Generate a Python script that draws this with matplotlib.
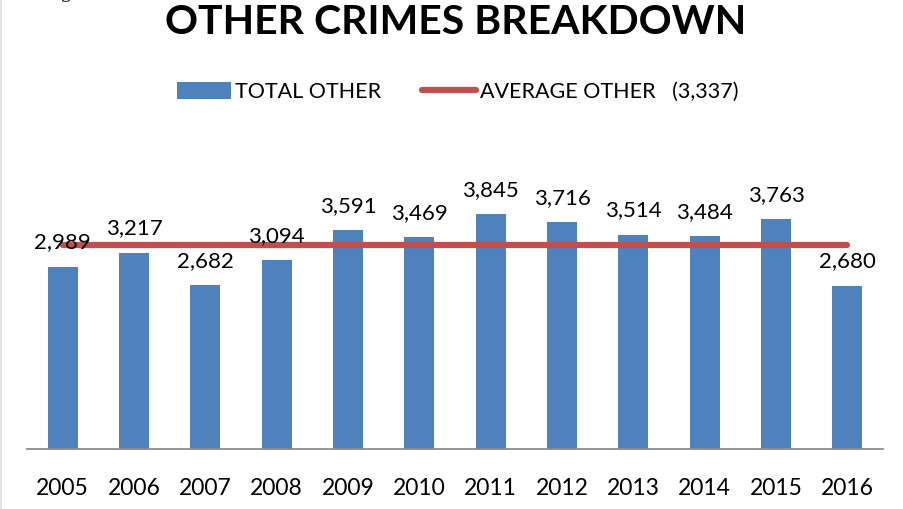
import matplotlib
matplotlib.use("Agg")
import matplotlib.pyplot as plt
from matplotlib.lines import Line2D
from matplotlib.patches import Patch

years = ["2005", "2006", "2007", "2008", "2009", "2010",
         "2011", "2012", "2013", "2014", "2015", "2016"]
total_other = [2989, 3217, 2682, 3094, 3591, 3469, 3845, 3716, 3514, 3484, 3763, 2680]
average_other = 3337

BLUE = "#4F81BD"
RED = "#C0504D"
FONT = "Lato"

W, H = 904, 509
fig = plt.figure(figsize=(W / 100, H / 100), dpi=100)

ymax = 5000
px_per_unit = 0.061
ax_left, ax_right, ax_bottom = 27, 883, 449
ax_top = ax_bottom - ymax * px_per_unit
ax = fig.add_axes([ax_left / W, (H - ax_bottom) / H,
                   (ax_right - ax_left) / W, (ax_bottom - ax_top) / H])

x = list(range(len(years)))
ax.bar(x, total_other, width=0.42, color=BLUE, zorder=2)
ax.plot([x[0], x[-1]], [average_other, average_other], color=RED,
        linewidth=4.5, solid_capstyle="round", zorder=3)

for xi, v in zip(x, total_other):
    ax.annotate(f"{v:,}", (xi, v), xytext=(0, 17.5), textcoords="offset points",
                ha="center", va="center", fontsize=16, family=FONT, zorder=4)

ax.set_xlim(-0.5, len(years) - 0.5)
ax.set_ylim(0, ymax)
ax.set_xticks(x)
ax.set_xticklabels(years, family=FONT, fontsize=16.5)
ax.tick_params(axis="x", length=0, pad=21)
ax.set_yticks([])
for side in ("top", "right", "left"):
    ax.spines[side].set_visible(False)
ax.spines["bottom"].set_color("#8C8C8C")
ax.spines["bottom"].set_linewidth(1.3)

fig.text(456 / W, 1 - 23 / H, "OTHER CRIMES BREAKDOWN", ha="center", va="center",
         fontsize=29.5, fontweight="bold", family=FONT)

handles = [Patch(facecolor=BLUE, edgecolor="none"),
           Line2D([0], [0], color=RED, linewidth=4.5, solid_capstyle="round")]
labels = ["TOTAL OTHER", f"AVERAGE OTHER   ({average_other:,})"]
fig.legend(handles, labels, loc="center", bbox_to_anchor=(458 / W, 1 - 92 / H),
           ncol=2, frameon=False, prop={"family": FONT, "size": 15.5},
           handlelength=2.5, handleheight=0.8, handletextpad=0.2,
           columnspacing=1.9, borderpad=0, borderaxespad=0)

# caption fragment and page edge at the top left
fig.text(40 / W, 1 + 8 / H, "Figure", ha="left", va="center", fontsize=15,
         family="DejaVu Serif", style="italic", color="#333333")
fig.add_artist(Line2D([1.5 / W, 1.5 / W], [0, 1], color="#DDDDDD", linewidth=1.2))

fig.savefig("out.png", dpi=100, facecolor="white")
